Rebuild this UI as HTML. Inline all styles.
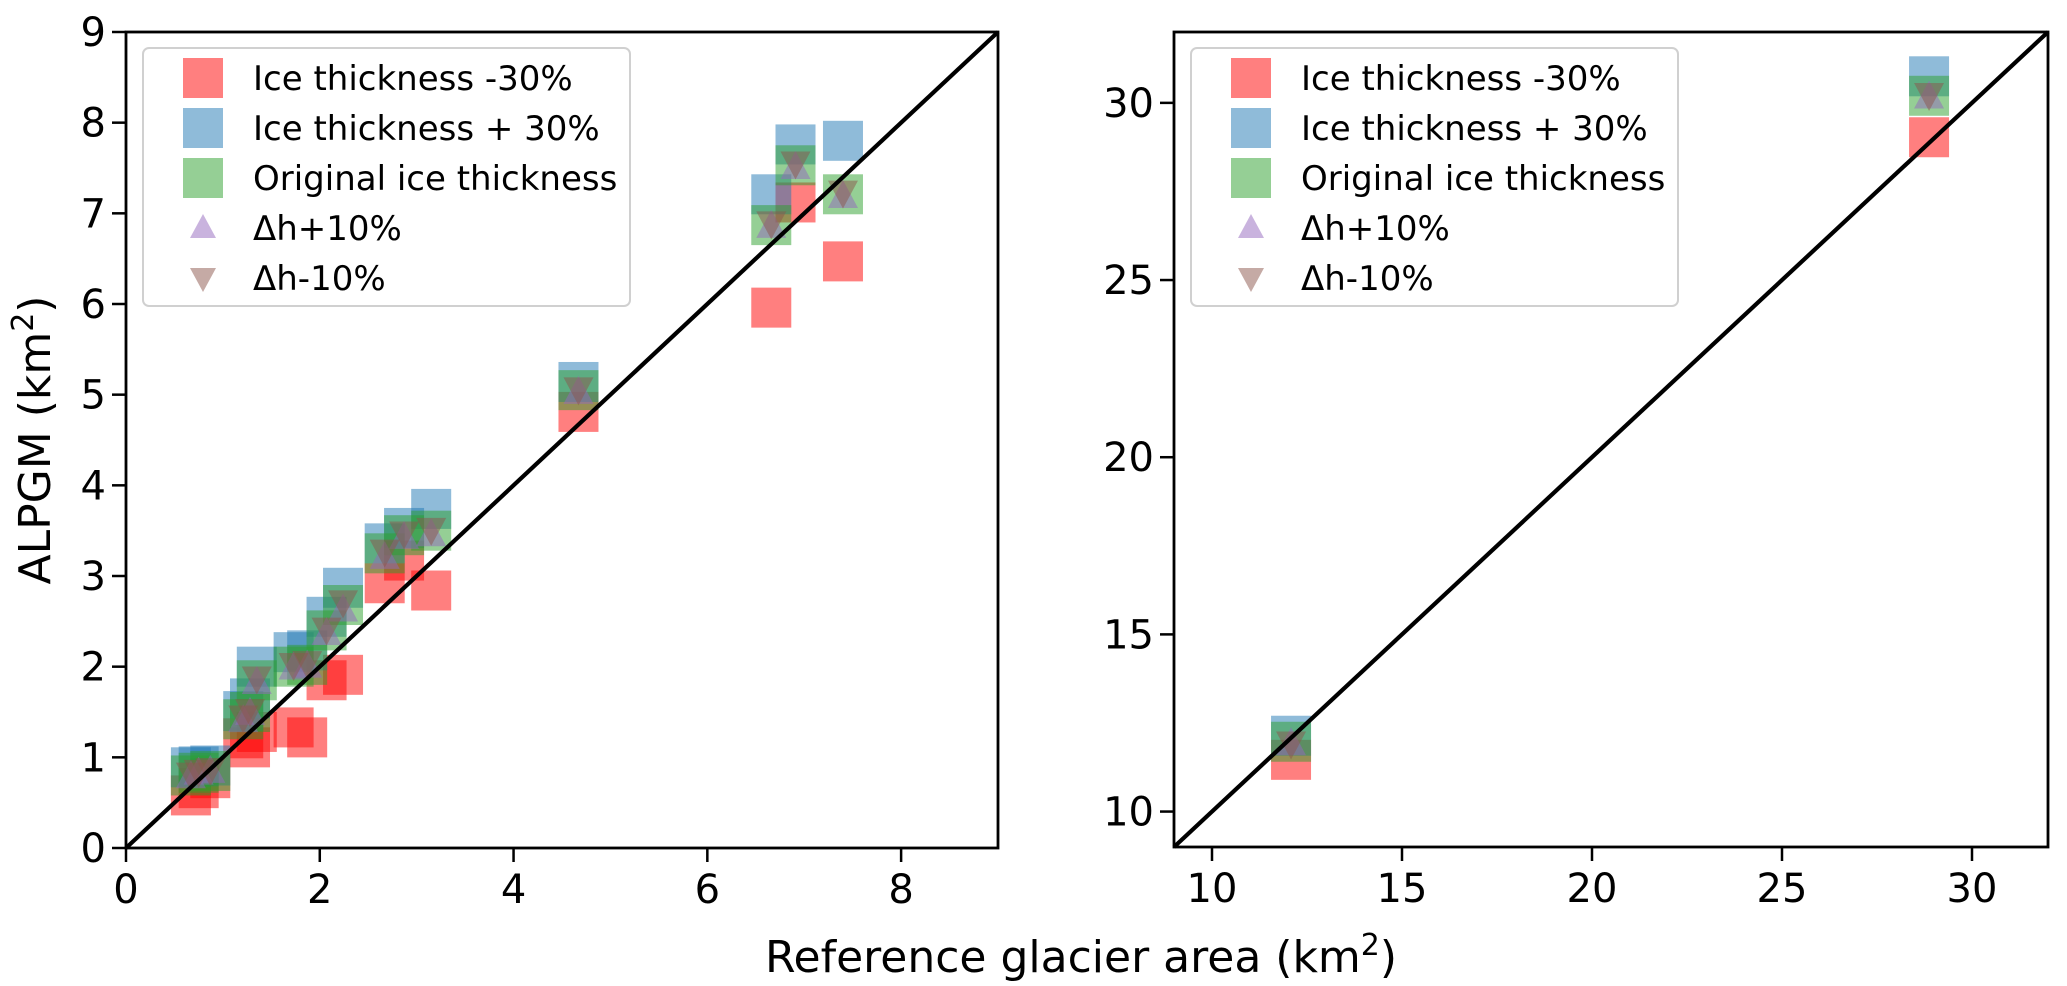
<!DOCTYPE html>
<html><head><meta charset="utf-8"><style>
html,body{margin:0;padding:0;background:#fff;}
svg{display:block;font-family:"DejaVu Sans","Liberation Sans",sans-serif;}
</style></head><body>
<svg id="chart" width="2067" height="986" viewBox="0 0 2067 986" xmlns="http://www.w3.org/2000/svg">
<text x="1081" y="972" font-size="44" text-anchor="middle">Reference glacier area (km<tspan dy="-17" font-size="30">2</tspan><tspan dy="17">)</tspan></text>
<text transform="translate(50,440) rotate(-90)" font-size="44" text-anchor="middle">ALPGM (km<tspan dy="-17" font-size="30">2</tspan><tspan dy="17">)</tspan></text>
</svg>
<script>
// Left panel data
const leftX     = [0.67,0.75,0.87,1.21,1.28,1.35,1.73,1.87,2.07,2.24,2.67,2.87,3.15,4.67,6.66,6.91,7.40];
const leftRed   = [0.58,0.66,0.77,1.21,1.11,1.28,1.33,1.22,1.85,1.91,2.92,3.17,2.84,4.81,5.96,7.12,6.47];
const leftBlue  = [0.89,0.90,0.91,1.51,1.65,2.00,2.16,2.18,2.55,2.87,3.36,3.53,3.74,5.14,7.21,7.76,7.80];
const leftGreen = [0.80,0.83,0.85,1.42,1.50,1.85,2.00,2.02,2.40,2.68,3.25,3.45,3.50,5.05,6.87,7.53,7.21];
const leftUp    = [0.78,0.82,0.84,1.40,1.48,1.82,1.98,2.00,2.36,2.62,3.20,3.42,3.45,5.02,6.85,7.50,7.18];
const leftDown  = [0.82,0.85,0.87,1.45,1.52,1.88,2.03,2.05,2.42,2.72,3.28,3.48,3.52,5.07,6.90,7.56,7.24];
// Right panel data
const rightX     = [12.08,28.87];
const rightRed   = [11.46,29.03];
const rightBlue  = [12.14,30.75];
const rightGreen = [11.97,30.20];
const rightUp    = [11.90,30.15];
const rightDown  = [11.95,30.25];
// Ticks
const leftXTicks  = [0,2,4,6,8];
const leftYTicks  = [0,1,2,3,4,5,6,7,8,9];
const rightXTicks = [10,15,20,25,30];
const rightYTicks = [10,15,20,25,30];
const legendLabels = ["Ice thickness -30%","Ice thickness + 30%","Original ice thickness","Δh+10%","Δh-10%"];

const NS="http://www.w3.org/2000/svg";
const svg=document.getElementById('chart');
function mk(tag,attrs,parent){const e=document.createElementNS(NS,tag);for(const k in attrs)e.setAttribute(k,attrs[k]);(parent||svg).appendChild(e);return e;}

const colors=[["#ff0000",0.5],["#1f77b4",0.5],["#2ca02c",0.5],["#9467bd",0.5],["#8c564b",0.5]];

function panel(name,L,R,T,B,xmin,xmax,ymin,ymax,xt,yt,xs,series,legX){
  const g=mk('g',{});
  
  
  const sx=v=>L+(v-xmin)/(xmax-xmin)*(R-L);
  const sy=v=>B-(v-ymin)/(ymax-ymin)*(B-T);
  series.forEach((vals,si)=>{
    const [c,a]=colors[si];
    vals.forEach((v,i)=>{
      const cx=sx(xs[i]),cy=sy(v);
      let m;
      if(si<3){
        m=mk('rect',{x:cx-20,y:cy-20,width:40,height:40,fill:c,'fill-opacity':a},g);
      }else if(si===3){
        m=mk('polygon',{points:`${cx},${cy-17} ${cx-15},${cy+11} ${cx+15},${cy+11}`,fill:c,'fill-opacity':a},g);
      }else{
        m=mk('polygon',{points:`${cx},${cy+17} ${cx-15},${cy-11} ${cx+15},${cy-11}`,fill:c,'fill-opacity':a},g);
      }
      
      
    });
  });
  const lo=Math.max(xmin,ymin),hi=Math.min(xmax,ymax);
  const ln=mk('line',{x1:sx(lo),y1:sy(lo),x2:sx(hi),y2:sy(hi),stroke:'#000','stroke-width':4.2},g);
  
  
  const fr=mk('rect',{x:L,y:T,width:R-L,height:B-T,fill:'none',stroke:'#000','stroke-width':2.8},g);
  
  
  xt.forEach(v=>{
    const x=sx(v);
    mk('line',{x1:x,y1:B,x2:x,y2:B+14,stroke:'#000','stroke-width':2.5},g);
    const t=mk('text',{x:x,y:B+55,'font-size':40,'text-anchor':'middle'},g);
    t.textContent=v;
    
    
  });
  yt.forEach(v=>{
    const y=sy(v);
    mk('line',{x1:L-14,y1:y,x2:L,y2:y,stroke:'#000','stroke-width':2.5},g);
    const t=mk('text',{x:L-20,y:y+14,'font-size':40,'text-anchor':'end'},g);
    t.textContent=v;
    
    
  });
  const lg=mk('g',{},g);
  
  
  mk('rect',{x:legX,y:T+16,width:487,height:258,rx:6,fill:'#fff','fill-opacity':0.8,stroke:'#d0d0d0','stroke-width':2},lg);
  legendLabels.forEach((lab,i)=>{
    const cy=T+46+i*50, cx=legX+60;
    const [c,a]=colors[i];
    let m;
    if(i<3) m=mk('rect',{x:cx-20,y:cy-20,width:40,height:40,fill:c,'fill-opacity':a},lg);
    else if(i===3) m=mk('polygon',{points:`${cx},${cy-14} ${cx-13},${cy+10} ${cx+13},${cy+10}`,fill:c,'fill-opacity':a},lg);
    else m=mk('polygon',{points:`${cx},${cy+14} ${cx-13},${cy-10} ${cx+13},${cy-10}`,fill:c,'fill-opacity':a},lg);
    
    
    const t=mk('text',{x:legX+110,y:cy+12,'font-size':34},lg);
    t.textContent=lab;
    
    
  });
}
panel('left-panel',126,998,32,848,0,9,0,9,leftXTicks,leftYTicks,leftX,[leftRed,leftBlue,leftGreen,leftUp,leftDown],143);
panel('right-panel',1174,2048,32,847,9,32,9,32,rightXTicks,rightYTicks,rightX,[rightRed,rightBlue,rightGreen,rightUp,rightDown],1191);
</script>
</body></html>
